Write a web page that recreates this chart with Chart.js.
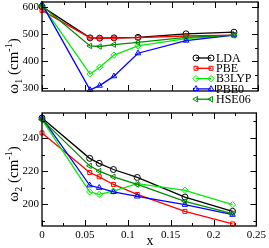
<!DOCTYPE html>
<html>
<head>
<meta charset="utf-8">
<script src="https://cdn.jsdelivr.net/npm/chart.js@4/dist/chart.umd.min.js"></script>
<style>
  html, body { margin: 0; padding: 0; background: #fff; overflow: hidden; }
  #wrap { position: relative; width: 269px; height: 248px; overflow: hidden; }
  canvas { position: absolute; left: 0; }
  #c1 { top: -10px; }
  #c2 { top: 100px; }
  .lbl { position: absolute; font-family: "Liberation Serif", "Times New Roman", serif; color: #000; white-space: nowrap; line-height: 1; }
  .ytitle { font-size: 15px; transform: translate(-50%, -50%) rotate(-90deg); }
  .ytitle sub, .ytitle sup { font-size: 10px; line-height: 0; }
  #xt { font-size: 14px; transform: translate(-50%, -50%); }
</style>
</head>
<body>
<div id="wrap">
  <canvas id="c1" width="269" height="135"></canvas>
  <canvas id="c2" width="269" height="148"></canvas>
  <div class="lbl ytitle" style="left:13px; top:66px;">ω<sub>1</sub> (cm<sup>-1</sup>)</div>
  <div class="lbl ytitle" style="left:13px; top:174px;">ω<sub>2</sub> (cm<sup>-1</sup>)</div>
  <div class="lbl" id="xt" style="left:150px; top:241px;">x</div>
</div>
<script>
// concentrations
const xVals = [0, 0.0556, 0.0667, 0.0833, 0.1111, 0.1667, 0.2222];
const seriesNames = ['LDA', 'PBE', 'B3LYP', 'PBE0', 'HSE06'];

// omega_1 (cm^-1), top panel
const omega1LDA   = [603, 487, 486, 487, 489, 502, 508];
const omega1PBE   = [589, 487, 486, 486, 488, 494, 497];
const omega1B3LYP = [608, 353, 378, 423, 457, 484, 497];
const omega1PBE0  = [612, 294, 310, 345, 430, 477, 497];
const omega1HSE06 = [606, 457, 455, 462, 470, 489, 497];

// omega_2 (cm^-1), bottom panel
const omega2LDA   = [252, 227.7, 224.7, 221, 216.2, 204.4, 195.8];
const omega2PBE   = [243, 219.2, 216.6, 212, 206, 195.8, 188.3];
const omega2B3LYP = [251, 207.5, 206, 208, 212.5, 208.5, 199.8];
const omega2PBE0  = [252, 211.5, 210, 207.5, 204.8, 199.8, 193.8];
const omega2HSE06 = [251, 223.2, 220, 216.6, 212, 201.8, 194.4];

// tick labels
const xTicks = [0, 0.05, 0.1, 0.15, 0.2, 0.25];
const y1Ticks = [300, 400, 500, 600];
const y2Ticks = [200, 220, 240];

const colors = ['#000000', '#ff0000', '#00ee00', '#0000ff', '#008b00'];
const styles = ['circle', 'rect', 'rectRot', 'triangle', 'triangle'];
const rotations = [0, 0, 0, 0, -90];
const radii = [3, 2.8, 3.2, 3.2, 3.2];

Chart.defaults.font.family = '"Liberation Serif", "Times New Roman", serif';
Chart.defaults.font.size = 11;
Chart.defaults.color = '#000';

function makeDatasets(series) {
  return series.map((vals, i) => ({
    label: seriesNames[i],
    data: vals.map((v, j) => ({ x: xVals[j], y: v })),
    borderColor: colors[i],
    borderWidth: 1.3,
    pointStyle: styles[i],
    pointRotation: rotations[i],
    pointRadius: radii[i],
    pointBorderWidth: 1,
    pointBorderColor: colors[i],
    pointBackgroundColor: 'rgba(0,0,0,0)',
    tension: 0,
    clip: false,
    order: series.length - i
  }));
}

// frame with inward major/minor ticks on all four sides
const frameTicks = {
  id: 'frameTicks',
  afterDraw(chart) {
    const { ctx, chartArea: a, scales } = chart;
    const majY = chart.options.plugins.frameTicks.yMajor;
    const minY = chart.options.plugins.frameTicks.yMinor;
    ctx.save();
    ctx.strokeStyle = '#000';
    ctx.lineWidth = 1;
    ctx.beginPath();
    const xMinor = [];
    for (let i = 0; i < xTicks.length - 1; i++) xMinor.push((xTicks[i] + xTicks[i + 1]) / 2);
    xTicks.forEach(v => {
      const px = Math.round(scales.x.getPixelForValue(v)) + 0.5;
      ctx.moveTo(px, a.bottom); ctx.lineTo(px, a.bottom - 6);
      ctx.moveTo(px, a.top); ctx.lineTo(px, a.top + 6);
    });
    xMinor.forEach(v => {
      const px = Math.round(scales.x.getPixelForValue(v)) + 0.5;
      ctx.moveTo(px, a.bottom); ctx.lineTo(px, a.bottom - 3);
      ctx.moveTo(px, a.top); ctx.lineTo(px, a.top + 3);
    });
    majY.forEach(v => {
      const py = Math.round(scales.y.getPixelForValue(v)) + 0.5;
      ctx.moveTo(a.left, py); ctx.lineTo(a.left + 6, py);
      ctx.moveTo(a.right, py); ctx.lineTo(a.right - 6, py);
    });
    minY.forEach(v => {
      const py = Math.round(scales.y.getPixelForValue(v)) + 0.5;
      ctx.moveTo(a.left, py); ctx.lineTo(a.left + 3, py);
      ctx.moveTo(a.right, py); ctx.lineTo(a.right - 3, py);
    });
    ctx.stroke();
    ctx.lineWidth = 1.3;
    ctx.strokeRect(a.left, a.top, a.right - a.left, a.bottom - a.top);
    ctx.restore();
  }
};

// legend: line sample with a marker at each end
const lineLegend = {
  id: 'lineLegend',
  afterDraw(chart) {
    if (!chart.options.plugins.lineLegend.show) return;
    const ctx = chart.ctx;
    const x0 = 196, x1 = 211, top = 68, step = 10.3;
    ctx.save();
    chart.data.datasets.forEach((ds, i) => {
      const y = top + i * step;
      ctx.strokeStyle = ds.borderColor;
      ctx.fillStyle = 'rgba(0,0,0,0)';
      ctx.lineWidth = 1.3;
      ctx.beginPath();
      ctx.moveTo(x0, y); ctx.lineTo(x1, y);
      ctx.stroke();
      ctx.lineWidth = 1;
      [x0, x1].forEach(px => {
        Chart.helpers.drawPoint(ctx, {
          pointStyle: ds.pointStyle, rotation: ds.pointRotation, radius: ds.pointRadius, borderWidth: 1
        }, px, y);
      });
      ctx.fillStyle = '#000';
      ctx.font = '12px "Liberation Serif", "Times New Roman", serif';
      ctx.textBaseline = 'middle';
      ctx.fillText(ds.label, x1 + 5, y + 0.5);
    });
    ctx.restore();
  }
};

function baseOptions(yMin, yMax, yTicks, yMinor, showX, padding, legend) {
  return {
    responsive: false,
    animation: false,
    layout: { padding: padding },
    plugins: {
      legend: { display: false },
      tooltip: { enabled: false },
      frameTicks: { yMajor: yTicks, yMinor: yMinor },
      lineLegend: { show: legend }
    },
    scales: {
      x: {
        type: 'linear',
        min: 0,
        max: 0.25,
        display: showX,
        grid: { display: false, drawTicks: false },
        border: { display: false },
        afterBuildTicks: s => { s.ticks = xTicks.map(v => ({ value: v })); },
        afterFit: s => { s.height = 22; },
        ticks: {
          padding: 3,
          maxRotation: 0,
          callback: v => String(Number(v.toFixed(2)))
        }
      },
      y: {
        type: 'linear',
        min: yMin,
        max: yMax,
        grid: { display: false, drawTicks: false },
        border: { display: false },
        afterBuildTicks: s => { s.ticks = yTicks.map(v => ({ value: v })); },
        afterFit: s => { s.width = 42; },
        ticks: { padding: 3 }
      }
    }
  };
}

new Chart(document.getElementById('c1'), {
  type: 'line',
  data: { datasets: makeDatasets([omega1LDA, omega1PBE, omega1B3LYP, omega1PBE0, omega1HSE06]) },
  options: baseOptions(290, 620, y1Ticks, [350, 450, 550], false,
    { top: 12, right: 11, bottom: 12, left: 0 }, true),
  plugins: [frameTicks, lineLegend]
});

new Chart(document.getElementById('c2'), {
  type: 'line',
  data: { datasets: makeDatasets([omega2LDA, omega2PBE, omega2B3LYP, omega2PBE0, omega2HSE06]) },
  options: baseOptions(187, 255, y2Ticks, [190, 210, 230, 250], true,
    { top: 13, right: 11, bottom: 0, left: 0 }, false),
  plugins: [frameTicks, lineLegend]
});
</script>
</body>
</html>
